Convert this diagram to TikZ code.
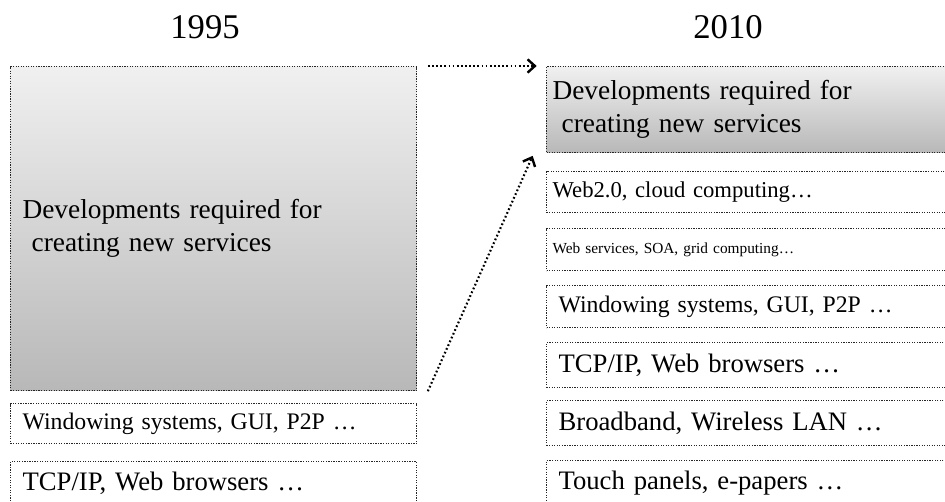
\documentclass[tikz,border=0pt]{standalone}
\usepackage{fontspec}
\setmainfont{Liberation Serif}
\usetikzlibrary{arrows.meta}
\definecolor{shadetop}{RGB}{240,240,240}
\definecolor{shadebot}{RGB}{184,184,184}
\tikzset{
  layer/.style={draw=black!85, densely dotted, line width=0.9pt, rectangle,
    anchor=north west, inner xsep=9pt, inner ysep=1pt, align=left,
    font=\fontsize{20}{24}\selectfont},
  oldlayer/.style={layer, minimum width=304.5pt, text width=286.5pt},
  newlayer/.style={layer, minimum width=310.5pt, text width=292.5pt},
  devbox/.style={top color=shadetop, bottom color=shadebot,
    font=\fontsize{20.5}{25}\selectfont},
  yearlbl/.style={font=\fontsize{26}{30}\selectfont},
  dotarrow/.style={dash pattern=on 1.3pt off 1.8pt, line width=1.6pt,
    -{Straight Barb[length=5.5pt,width=10pt,line width=1.8pt]}}
}
\begin{document}
\begin{tikzpicture}[x=0.75pt,y=-0.75pt]
  \useasboundingbox (0,0) rectangle (945,502);
  \clip (0,0) rectangle (945,502);
  \node[yearlbl] (old) at (205,27) {1995};
  \node[yearlbl] (new) at (728,27) {2010};
  \node[oldlayer,devbox,minimum height=243pt] (olddev) at (10,66)
    {Developments required for\\\ creating new services};
  \node[oldlayer,minimum height=30pt,font=\fontsize{17.8}{20}\selectfont] (oldwin) at (10,403)
    {Windowing systems, GUI, P2P \dots};
  \node[oldlayer,minimum height=33pt] (oldtcp) at (10,461) {TCP/IP, Web browsers \dots};
  \node[newlayer,devbox,minimum height=64.5pt,inner xsep=4.5pt,text width=301.5pt] (newdev) at (546,66)
    {Developments required for\\\ creating new services};
  \node[newlayer,minimum height=30.75pt,inner xsep=4.5pt,text width=301.5pt,font=\fontsize{17}{20}\selectfont] (web2) at (546,171)
    {Web2.0, cloud computing\dots};
  \node[newlayer,minimum height=31.5pt,inner xsep=4.5pt,text width=301.5pt,font=\fontsize{11.5}{14}\selectfont] (websvc) at (546,228)
    {Web services, SOA, grid computing\dots};
  \node[newlayer,minimum height=31.5pt,font=\fontsize{17.8}{20}\selectfont] (newwin) at (546,285)
    {Windowing systems, GUI, P2P \dots};
  \node[newlayer,minimum height=33.75pt] (newtcp) at (546,342) {TCP/IP, Web browsers \dots};
  \node[newlayer,minimum height=33.75pt] (bband) at (546,400) {Broadband, Wireless LAN \dots};
  \node[newlayer,minimum height=33.75pt] (touch) at (546,460) {Touch panels, e-papers \dots};
  \draw[dotarrow] ([xshift=8pt]olddev.north east) -- ([xshift=-7pt]newdev.north west);
  \draw[dotarrow] ([xshift=8pt]olddev.south east) -- ([xshift=-10pt,yshift=-2pt]newdev.south west);
\end{tikzpicture}
\end{document}
